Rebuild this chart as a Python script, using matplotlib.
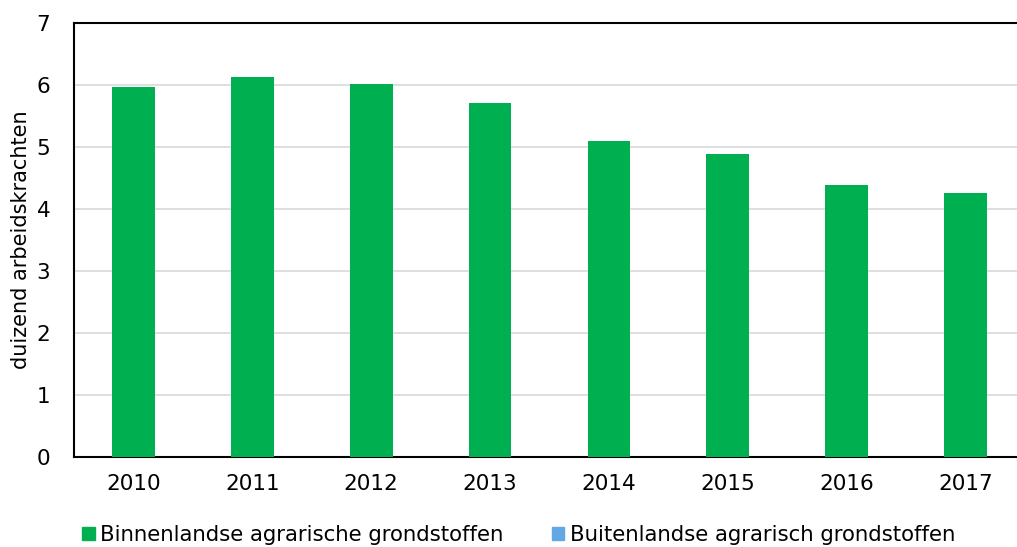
import numpy as np
import matplotlib.pyplot as plt
from matplotlib.patches import Patch

# data
jaren = ["2010", "2011", "2012", "2013", "2014", "2015", "2016", "2017"]
binnenlands = [5.96, 6.13, 6.02, 5.71, 5.10, 4.89, 4.39, 4.26]
buitenlands = [0, 0, 0, 0, 0, 0, 0, 0]

groen = "#00B050"
blauw = "#62A8E5"

plt.rcParams['font.family'] = ['DejaVu Sans']

fig = plt.figure(figsize=(10.17, 5.47), dpi=100)
# right edge of the plot area runs past the picture, as in the original
ax = fig.add_axes([0.0728, 0.1645, 0.935, 0.7935])

x = np.arange(len(jaren))
ax.bar(x, binnenlands, width=0.36, color=groen, zorder=3)
ax.bar(x, buitenlands, width=0.36, bottom=binnenlands, color=blauw, zorder=3)

ax.set_xlim(-0.5, len(jaren) - 0.5)
ax.set_ylim(0, 7)
ax.set_yticks(range(0, 8))
ax.set_xticks(x)
ax.set_xticklabels(jaren)
ax.tick_params(axis='both', length=0, labelsize=15.5)
ax.tick_params(axis='x', pad=12)
ax.tick_params(axis='y', pad=17)
ax.yaxis.grid(True, color='#D9D9D9', linewidth=1.2, zorder=0)
ax.set_axisbelow(True)
for s in ax.spines.values():
    s.set_color('black')
    s.set_linewidth(1.5)
ax.spines['right'].set_visible(False)

ax.set_ylabel("duizend arbeidskrachten", fontsize=15, labelpad=4)

handles = [Patch(color=groen), Patch(color=blauw)]
labels = ["Binnenlandse agrarische grondstoffen", "Buitenlandse agrarisch grondstoffen"]
fig.legend(handles, labels, loc='center', bbox_to_anchor=(0.51, 0.022), ncol=2,
           frameon=False, fontsize=15.3, handlelength=0.58, handleheight=0.58,
           handletextpad=0.25, columnspacing=2.3, borderpad=0)

fig.savefig("out.png", dpi=100)
